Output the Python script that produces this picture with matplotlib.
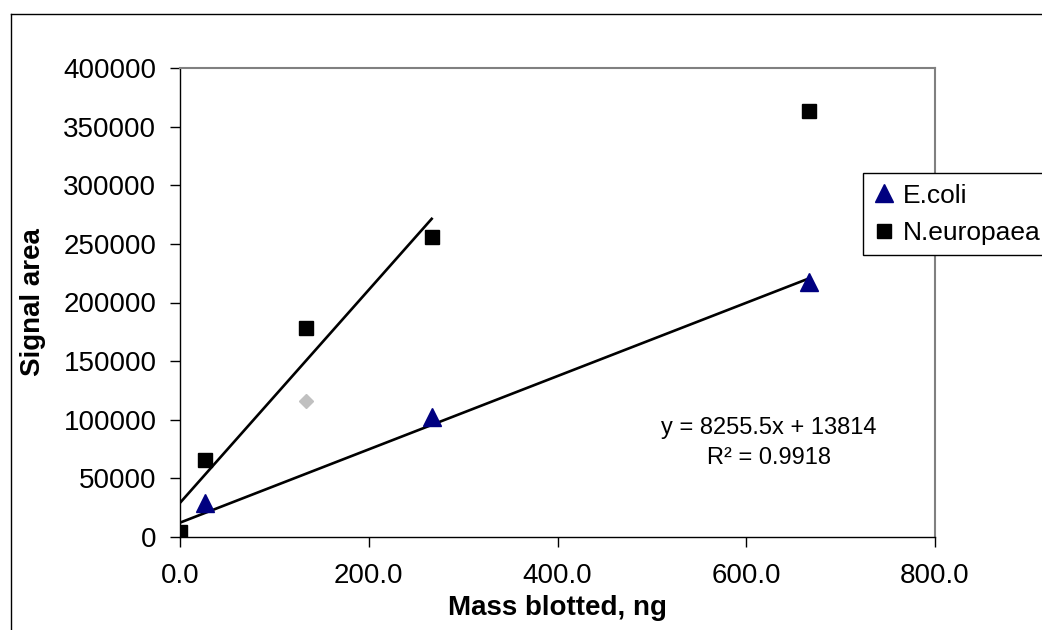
import numpy as np
import matplotlib
matplotlib.use("Agg")
import matplotlib.pyplot as plt
from matplotlib.lines import Line2D

plt.rcParams['font.family'] = ['Liberation Sans', 'DejaVu Sans']

# data
mass = [0.0, 26.7, 266.7, 666.7]
ecoli = [0, 29000, 102500, 217500]

mass_ne = [0.0, 26.7, 133.3, 266.7, 666.7]
neuropaea = [4000, 65500, 178500, 256000, 363500]

# outlier (grey diamond, not in legend)
mass_out = [133.3]
signal_out = [116000]

eq_text = "y = 8255.5x + 13814\nR\u00b2 = 0.9918"

fig = plt.figure(figsize=(10.42, 6.3), dpi=100)
ax = fig.add_axes([180/1042, 1-537/630, 755/1042, 469/630])

# trend lines
p1 = np.polyfit(mass, ecoli, 1)
xs1 = np.array([min(mass), max(mass)])
ax.plot(xs1, np.polyval(p1, xs1), color='black', lw=1.9, zorder=2)

p2 = np.polyfit(mass_ne[:4], neuropaea[:4], 1)
xs2 = np.array([min(mass_ne[:4]), max(mass_ne[:4])])
ax.plot(xs2, np.polyval(p2, xs2), color='black', lw=1.9, zorder=2)

ax.plot(mass, ecoli, linestyle='none', marker='^', ms=12.5, color='#000080',
        label='E.coli', zorder=3)
ax.plot(mass_ne, neuropaea, linestyle='none', marker='s', ms=10, color='black',
        label='N.europaea', zorder=4)
ax.plot(mass_out, signal_out, linestyle='none', marker='D', ms=7.5, color='#c0c0c0',
        zorder=3)

ax.set_xlim(0, 800)
ax.set_ylim(0, 400000)
ax.set_xticks([0, 200, 400, 600, 800])
ax.set_xticklabels(['0.0', '200.0', '400.0', '600.0', '800.0'])
ax.set_yticks(np.arange(0, 400001, 50000))
ax.set_yticklabels([str(v) for v in range(0, 400001, 50000)])
ax.tick_params(axis='both', direction='out', length=7, width=1, labelsize=20, colors='black')
ax.tick_params(axis='y', pad=10)
ax.tick_params(axis='x', pad=12)

for s in ['top', 'right']:
    ax.spines[s].set_color('#808080')
    ax.spines[s].set_linewidth(1.5)
for s in ['left', 'bottom']:
    ax.spines[s].set_color('black')
    ax.spines[s].set_linewidth(1)

ax.set_xlabel('Mass blotted, ng', fontsize=20, fontweight='bold')
ax.xaxis.set_label_coords(0.5, -0.152)
ax.xaxis.label.set_va('center')
ax.set_ylabel('Signal area', fontsize=20, fontweight='bold')
ax.yaxis.set_label_coords(-0.195, 0.5)
ax.yaxis.label.set_va('center')

ax.text(624, 80000, eq_text, fontsize=17, ha='center', va='center',
        linespacing=1.5)

leg = fig.legend(loc='upper left', bbox_to_anchor=(863/1042, 1-173/630),
                 borderaxespad=0, fontsize=19, frameon=True, fancybox=False,
                 framealpha=1, edgecolor='black', handlelength=0.8,
                 handletextpad=0.3, labelspacing=0.5, borderpad=0.4)
leg.get_frame().set_linewidth(1)

# outer chart border (cut off at right and bottom)
fig.add_artist(Line2D([11/1042, 11/1042], [0, 1-14/630], color='black', lw=1))
fig.add_artist(Line2D([11/1042, 1], [1-14/630, 1-14/630], color='black', lw=1))

fig.savefig('out.png', dpi=100)
